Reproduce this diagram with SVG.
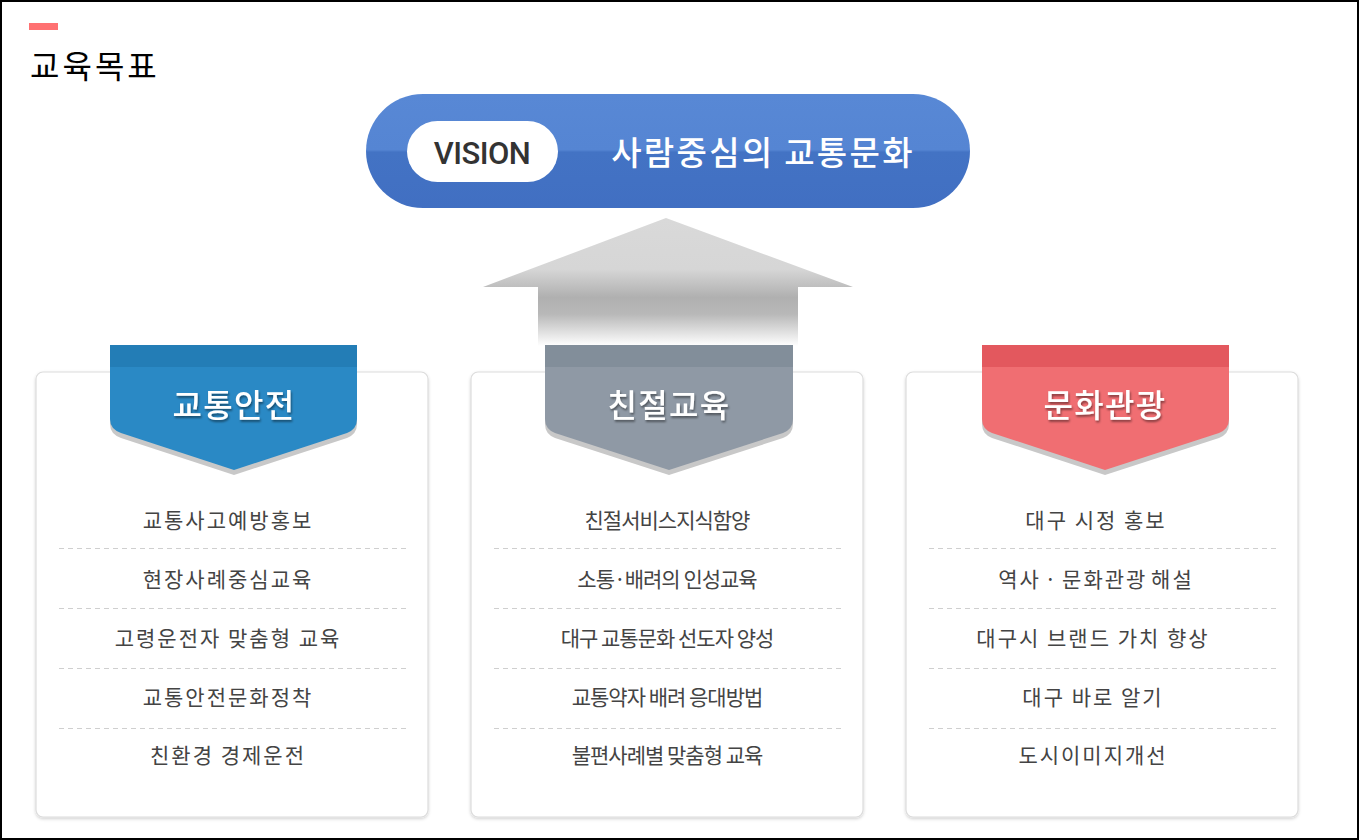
<svg xmlns="http://www.w3.org/2000/svg" width="1359" height="840" viewBox="0 0 1359 840">
<defs>
<style>
.title{font-family:"Noto Sans CJK KR","Noto Sans",sans-serif;font-size:32px;fill:#000;letter-spacing:3px}
.rib{font-family:"Noto Sans CJK KR","Noto Sans",sans-serif;font-size:32px;font-weight:500;fill:#fff;text-anchor:middle;letter-spacing:1.3px}
.item{font-family:"Noto Sans CJK KR","Noto Sans",sans-serif;font-size:21px;fill:#444;text-anchor:middle;letter-spacing:2px}
.itemc{font-family:"Noto Sans CJK KR","Noto Sans",sans-serif;font-size:21px;fill:#444;text-anchor:middle;letter-spacing:-1px}
.card{fill:#fff;stroke:#dcdcdc;stroke-width:1.2}
.dash{stroke:#cfcfcf;stroke-width:1;stroke-dasharray:5 4}
.shadow{fill:#c8c8c8}
</style>
<linearGradient id="pill" x1="0" y1="0" x2="0" y2="1">
<stop offset="0" stop-color="#5888d5"/>
<stop offset="0.49" stop-color="#5585d3"/>
<stop offset="0.51" stop-color="#4373c4"/>
<stop offset="1" stop-color="#416fc2"/>
</linearGradient>
<linearGradient id="arrow" gradientUnits="userSpaceOnUse" x1="0" y1="218" x2="0" y2="346">
<stop offset="0" stop-color="#d9d9d9"/>
<stop offset="0.4" stop-color="#d6d6d6"/>
<stop offset="0.62" stop-color="#b0b0b0"/>
<stop offset="0.75" stop-color="#b8b8b8"/>
<stop offset="1" stop-color="#ffffff"/>
</linearGradient>
<filter id="ts" x="-10%" y="-20%" width="120%" height="150%">
<feDropShadow dx="1" dy="2" stdDeviation="1.2" flood-color="#000" flood-opacity="0.45"/>
</filter>
<filter id="cs" x="-5%" y="-5%" width="110%" height="110%">
<feDropShadow dx="0" dy="1.5" stdDeviation="1.5" flood-color="#000" flood-opacity="0.18"/>
</filter>
</defs>
<rect x="1" y="1" width="1357" height="838" fill="#fff" stroke="#000" stroke-width="2"/>
<g id="header">
<rect x="29" y="23" width="29" height="7" fill="#ff7172"/>
<text class="title" x="30" y="78">교육목표</text>
</g>
<g id="vision">
<rect x="366" y="94" width="604" height="114" rx="57" fill="url(#pill)"/>
<rect x="407" y="121" width="151" height="61" rx="30.5" fill="#fff"/>
<text x="482" y="164" font-family="Roboto,'Liberation Sans',sans-serif" font-size="31" font-weight="500" fill="#333" text-anchor="middle" letter-spacing="-0.5">VISION</text>
<text x="763" y="165" font-family="'Noto Sans CJK KR','Noto Sans',sans-serif" font-size="33" font-weight="500" fill="#fff" text-anchor="middle" letter-spacing="2.3">사람중심의 교통문화</text>
</g>
<g id="connectors">
<polygon points="666,218 853,287 798,287 798,346 538,346 538,287 483,287" fill="url(#arrow)"/>
</g>
<g id="card-traffic">
<rect class="card" x="36" y="372" width="392" height="445" rx="7" filter="url(#cs)"/>
<path class="shadow" d="M110,372 L357,372 L357,424 Q357,434 347,438 L234,475 L121,438 Q110,434 110,424 Z"/>
<path d="M110,345 L357,345 L357,419 Q357,429 347,433 L234,470 L121,433 Q110,429 110,419 Z" fill="#2a89c5"/>
<rect x="110" y="345" width="247" height="22" fill="#237db6"/>
<text class="rib" x="234" y="417" filter="url(#ts)">교통안전</text>
<line class="dash" x1="59" y1="548.5" x2="406" y2="548.5"/>
<line class="dash" x1="59" y1="608.5" x2="406" y2="608.5"/>
<line class="dash" x1="59" y1="668.5" x2="406" y2="668.5"/>
<line class="dash" x1="59" y1="728.5" x2="406" y2="728.5"/>
<text class="item" x="228" y="528">교통사고예방홍보</text>
<text class="item" x="228" y="587">현장사례중심교육</text>
<text class="item" x="228" y="646">고령운전자 맞춤형 교육</text>
<text class="item" x="228" y="705">교통안전문화정착</text>
<text class="item" x="228" y="763">친환경 경제운전</text>
</g>
<g id="card-kindness">
<rect class="card" x="471" y="372" width="392" height="445" rx="7" filter="url(#cs)"/>
<path class="shadow" d="M545,372 L793,372 L793,424 Q793,434 783,438 L669,475 L555,438 Q545,434 545,424 Z"/>
<path d="M545,345 L793,345 L793,419 Q793,429 783,433 L669,470 L555,433 Q545,429 545,419 Z" fill="#8f99a5"/>
<rect x="545" y="345" width="248" height="22" fill="#828e9a"/>
<text class="rib" x="669" y="417" filter="url(#ts)">친절교육</text>
<line class="dash" x1="494" y1="548.5" x2="841" y2="548.5"/>
<line class="dash" x1="494" y1="608.5" x2="841" y2="608.5"/>
<line class="dash" x1="494" y1="668.5" x2="841" y2="668.5"/>
<line class="dash" x1="494" y1="728.5" x2="841" y2="728.5"/>
<text class="itemc" x="667" y="528">친절서비스지식함양</text>
<text class="itemc" x="667" y="587">소통·배려의 인성교육</text>
<text class="itemc" x="667" y="646">대구 교통문화 선도자 양성</text>
<text class="itemc" x="667" y="705">교통약자 배려 응대방법</text>
<text class="itemc" x="667" y="763">불편사례별 맞춤형 교육</text>
</g>
<g id="card-culture">
<rect class="card" x="906" y="372" width="392" height="445" rx="7" filter="url(#cs)"/>
<path class="shadow" d="M982,372 L1229,372 L1229,424 Q1229,434 1219,438 L1105,475 L992,438 Q982,434 982,424 Z"/>
<path d="M982,345 L1229,345 L1229,419 Q1229,429 1219,433 L1105,470 L992,433 Q982,429 982,419 Z" fill="#f06e72"/>
<rect x="982" y="345" width="247" height="22" fill="#e3585e"/>
<text class="rib" x="1105" y="417" filter="url(#ts)">문화관광</text>
<line class="dash" x1="929" y1="548.5" x2="1276" y2="548.5"/>
<line class="dash" x1="929" y1="608.5" x2="1276" y2="608.5"/>
<line class="dash" x1="929" y1="668.5" x2="1276" y2="668.5"/>
<line class="dash" x1="929" y1="728.5" x2="1276" y2="728.5"/>
<text class="item" x="1096" y="528">대구 시정 홍보</text>
<text class="item" x="1096" y="587" word-spacing="-3">역사 · 문화관광 해설</text>
<text class="item" x="1093" y="646">대구시 브랜드 가치 향상</text>
<text class="item" x="1093" y="705">대구 바로 알기</text>
<text class="item" x="1093" y="763">도시이미지개선</text>
</g>
</svg>
